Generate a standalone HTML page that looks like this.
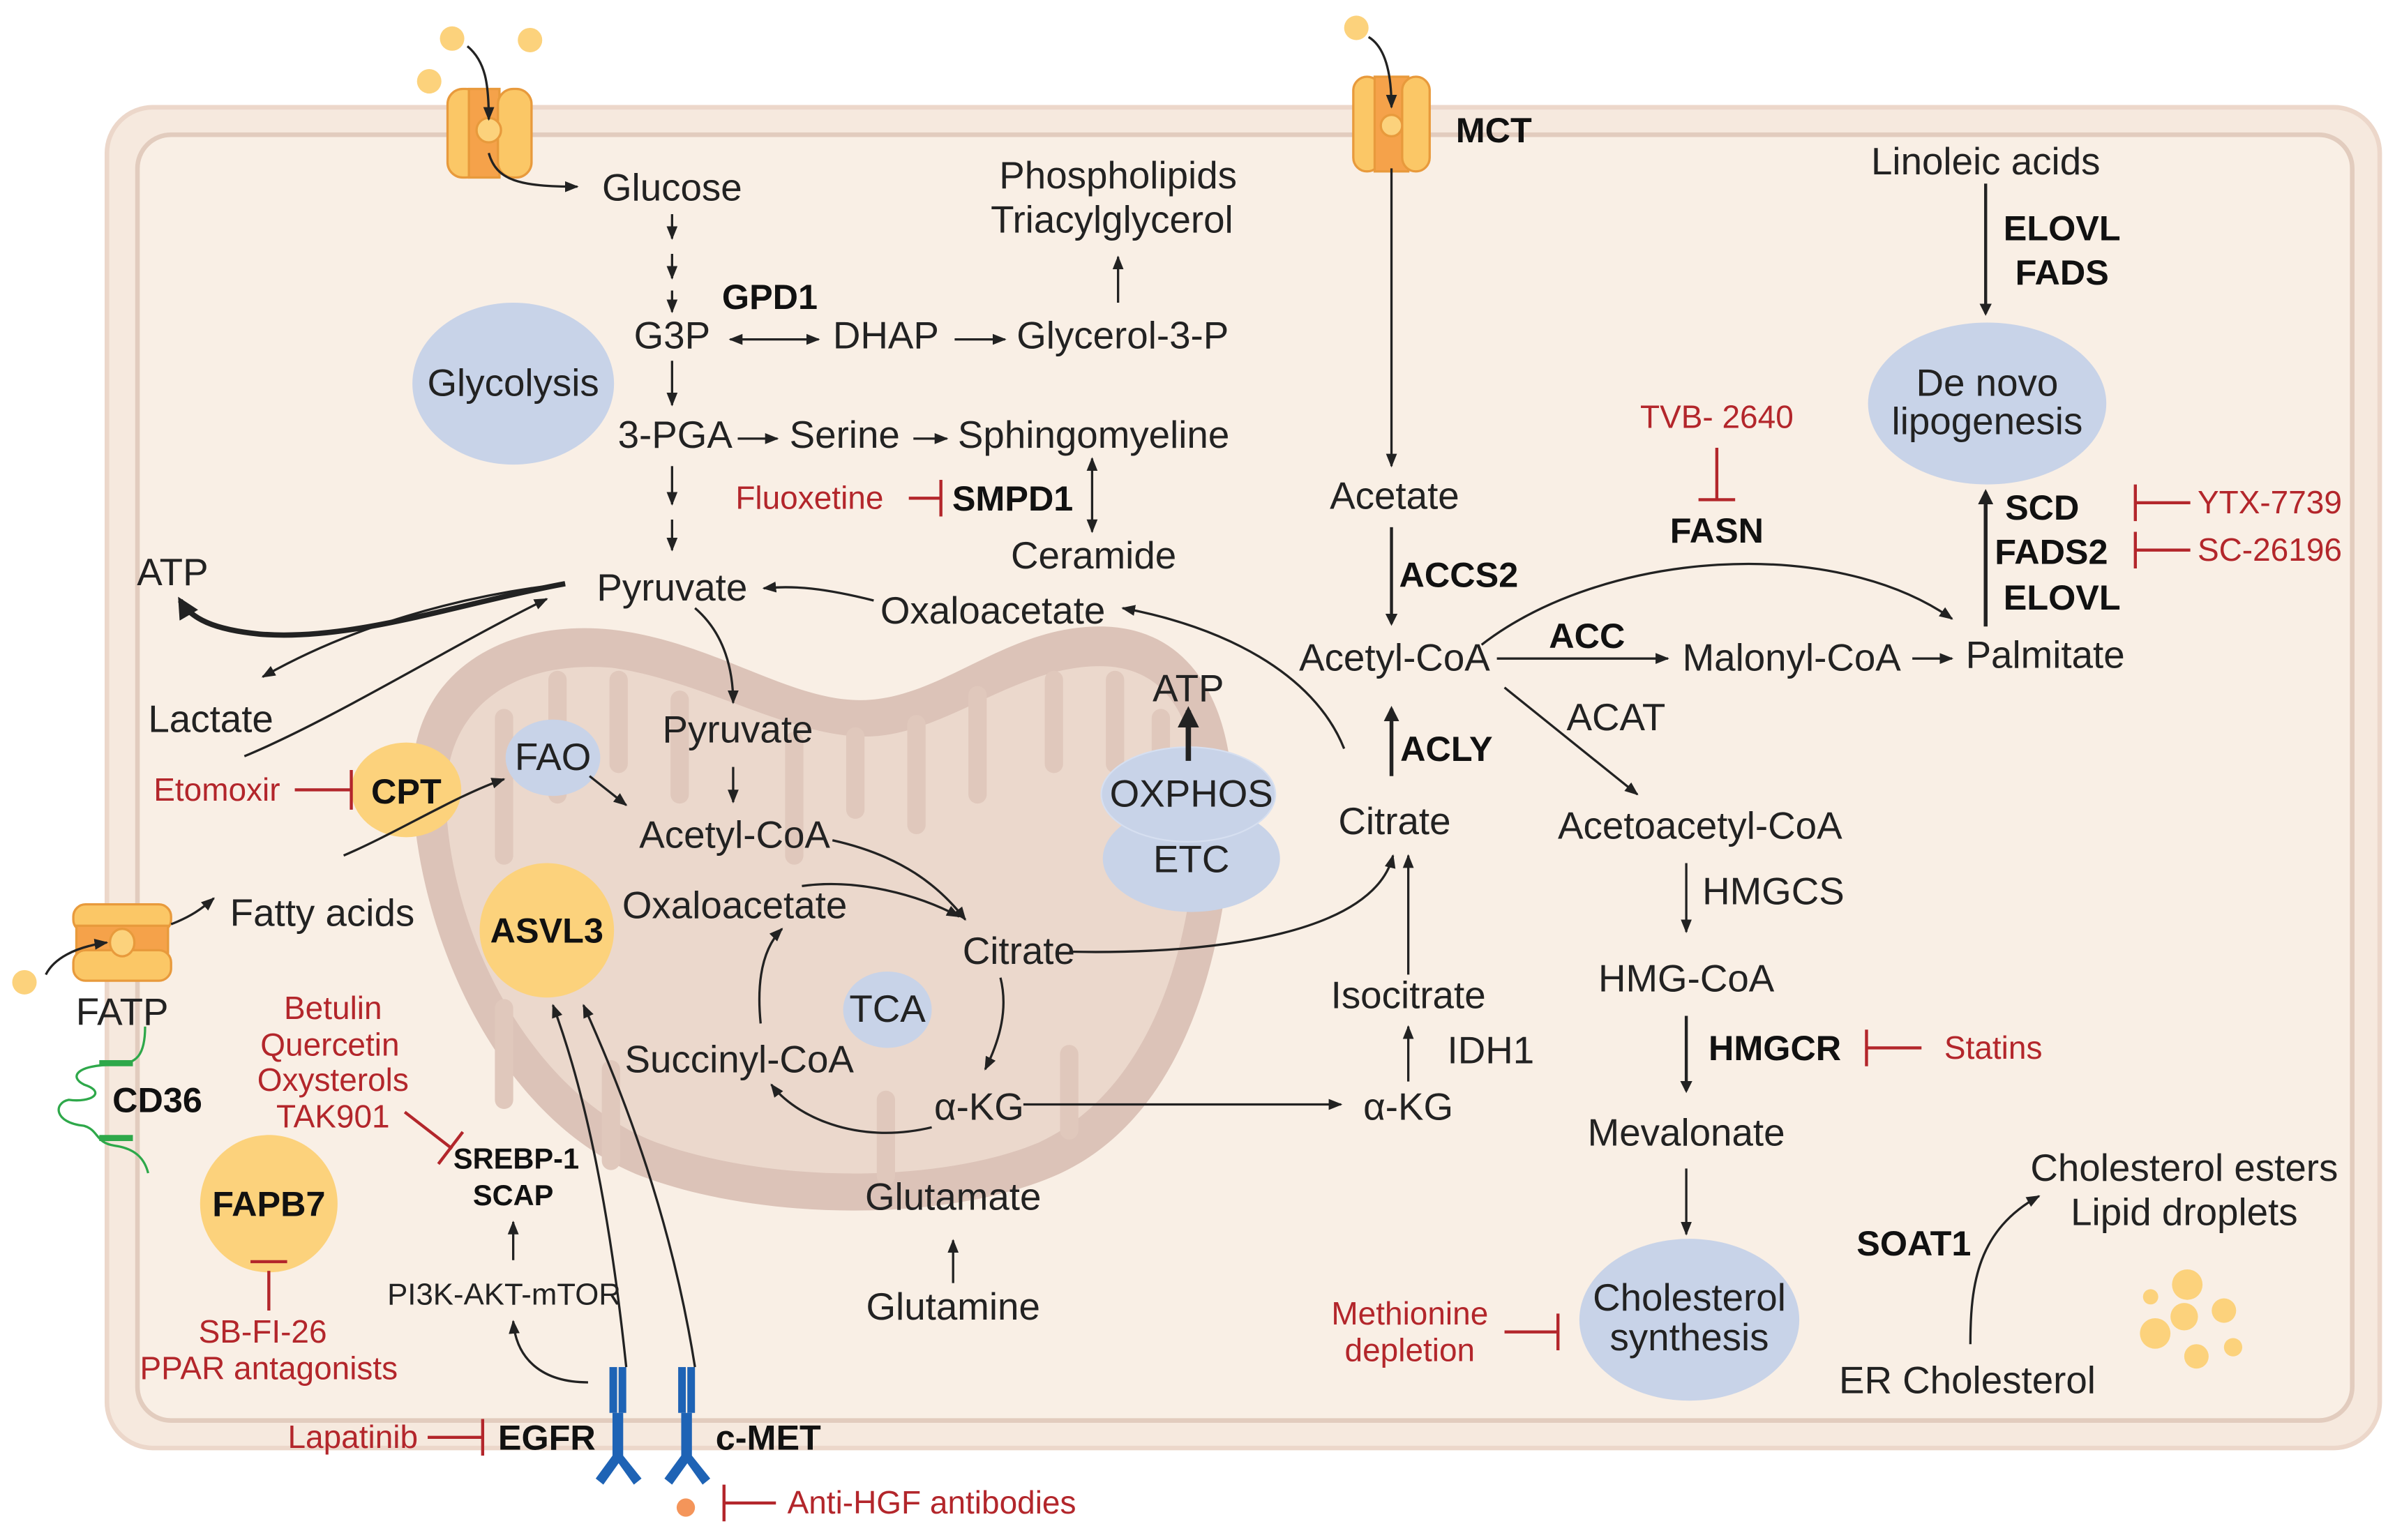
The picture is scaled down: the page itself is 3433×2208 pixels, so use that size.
<!DOCTYPE html>
<html><head><meta charset="utf-8"><style>
html,body{margin:0;padding:0;background:#fff}
svg{display:block}
text{font-family:"Liberation Sans",sans-serif;fill:#222;font-size:25px}
.b{font-weight:bold;fill:#111;font-size:23px}
.r{fill:#b3262b}
.c{text-anchor:middle}
</style></head><body>
<svg width="3433" height="2208" viewBox="0 0 1568 1008" xmlns="http://www.w3.org/2000/svg">
<defs>
<marker id="a" viewBox="0 0 10 10" refX="9" refY="5" markerWidth="6" markerHeight="6" orient="auto"><path d="M0,1 L10,5 L0,9 z" fill="#222"/></marker>
<marker id="as" viewBox="0 0 10 10" refX="9" refY="5" markerWidth="6" markerHeight="6" orient="auto-start-reverse"><path d="M0,1 L10,5 L0,9 z" fill="#222"/></marker>
<marker id="ab" viewBox="0 0 10 10" refX="8" refY="5" markerWidth="4" markerHeight="4" orient="auto"><path d="M0,0 L10,5 L0,10 z" fill="#222"/></marker>
</defs>
<rect width="1568" height="1008" fill="#fff"/>
<rect x="70" y="70" width="1488" height="878" rx="30" fill="#f6e9de" stroke="#ecd7ca" stroke-width="3"/>
<rect x="90" y="88" width="1450" height="842" rx="22" fill="#f9efe5" stroke="#e2ccbe" stroke-width="3"/>
<!-- mitochondrion -->
<path d="M270,520 C265,440 330,405 400,412 C470,420 520,462 570,458 C620,454 660,410 720,410 C790,410 815,480 805,560 C795,660 760,740 690,770 C620,800 500,800 420,770 C330,735 275,620 270,520 Z" fill="#dcc3b8"/>
<path d="M292,525 C290,460 340,432 400,437 C460,445 520,484 570,482 C620,480 665,436 720,436 C775,436 790,490 782,560 C774,650 740,720 680,748 C615,775 505,775 430,748 C350,718 295,615 292,525 Z" fill="#ebd8cc"/>
<g stroke="#e0c8bc" stroke-width="12" stroke-linecap="round" fill="none">
<path d="M330,470 L330,560"/><path d="M365,445 L365,520"/><path d="M405,445 L405,500"/><path d="M445,458 L445,520"/>
<path d="M520,485 L520,560"/><path d="M560,482 L560,530"/><path d="M600,474 L600,540"/><path d="M640,455 L640,520"/>
<path d="M690,445 L690,500"/><path d="M730,445 L730,500"/><path d="M760,470 L760,540"/>
<path d="M330,720 L330,660"/><path d="M400,760 L400,700"/><path d="M580,770 L580,720"/><path d="M700,740 L700,690"/>
</g>
<!-- blue ellipses -->
<g fill="#c8d3e8">
<ellipse cx="336" cy="251" rx="66" ry="53"/>
<ellipse cx="362" cy="496" rx="31" ry="25"/>
<ellipse cx="581" cy="661" rx="29" ry="25"/>
<ellipse cx="780" cy="562" rx="58" ry="35"/>
<ellipse cx="778" cy="520" rx="57" ry="31"/>
<ellipse cx="1301" cy="264" rx="78" ry="53"/>
<ellipse cx="1106" cy="864" rx="72" ry="53"/>
</g>
<ellipse cx="778" cy="520" rx="57" ry="31" fill="none" stroke="#d6dff0" stroke-width="1"/>
<!-- yellow circles -->
<g fill="#fcd27c">
<ellipse cx="266" cy="517" rx="36" ry="31"/>
<circle cx="358" cy="609" r="44"/>
<circle cx="176" cy="788" r="45"/>
<circle cx="296" cy="25" r="8"/><circle cx="347" cy="26" r="8"/><circle cx="281" cy="53" r="8"/>
<circle cx="888" cy="18" r="8"/>
<circle cx="16" cy="643" r="8"/>
<circle cx="1432" cy="841" r="10"/><circle cx="1456" cy="858" r="8"/><circle cx="1430" cy="862" r="9"/><circle cx="1411" cy="873" r="10"/><circle cx="1438" cy="888" r="8"/><circle cx="1462" cy="882" r="6"/><circle cx="1408" cy="849" r="5"/>
</g>
<!-- glucose transporter -->
<g stroke="#e89a3c" stroke-width="1.5">
<rect x="293" y="58" width="22" height="58" rx="10" fill="#fbc766"/>
<rect x="307" y="58" width="20" height="58" fill="#f5a24a"/>
<rect x="326" y="58" width="22" height="58" rx="10" fill="#fbc766"/>
<circle cx="320" cy="85" r="8" fill="#fcd27c"/>
</g>
<g stroke="#e89a3c" stroke-width="1.5">
<rect x="886" y="50" width="18" height="62" rx="9" fill="#fbc766"/>
<rect x="900" y="50" width="22" height="62" fill="#f5a24a"/>
<rect x="918" y="50" width="18" height="62" rx="9" fill="#fbc766"/>
<circle cx="911" cy="82" r="7" fill="#fcd27c"/>
</g>
<!-- FATP -->
<g stroke="#e89a3c" stroke-width="1.5">
<rect x="48" y="592" width="64" height="18" rx="8" fill="#fbc766"/>
<rect x="50" y="606" width="60" height="20" fill="#f5a24a"/>
<rect x="48" y="622" width="64" height="20" rx="8" fill="#fbc766"/>
<ellipse cx="80" cy="617" rx="8" ry="9" fill="#fcd27c"/>
</g>
<!-- CD36 -->
<path d="M95,672 C95,690 90,697 75,697 C50,697 45,705 55,710 C70,715 60,722 45,720 C35,722 35,735 55,737 C65,740 62,748 75,750 C90,752 95,760 97,768" fill="none" stroke="#2ea84a" stroke-width="1.5"/>
<rect x="65" y="694" width="22" height="4" fill="#2ea84a"/><rect x="65" y="743" width="22" height="4" fill="#2ea84a"/>
<!-- receptors -->
<g fill="#1e63b5">
<rect x="399" y="895" width="5" height="30"/><rect x="405" y="895" width="5" height="30"/>
<rect x="401" y="925" width="7" height="30"/>
<path d="M401,953 L390,968 L395,972 L405,958 L415,972 L420,968 L408,953 Z"/>
<rect x="444" y="895" width="5" height="30"/><rect x="450" y="895" width="5" height="30"/>
<rect x="446" y="925" width="7" height="30"/>
<path d="M446,953 L435,968 L440,972 L450,958 L460,972 L465,968 L453,953 Z"/>
</g>
<circle cx="449" cy="987" r="6" fill="#f4955a"/>
<!-- arrows -->
<g stroke="#222" stroke-width="1.5" fill="none" marker-end="url(#a)">
<path d="M306,30 C318,40 320,55 320,78"/>
<path d="M320,100 C325,118 340,122 378,122"/>
<path d="M896,24 C906,30 911,45 911,70"/>
<path d="M440,140 L440,156"/><path d="M440,166 L440,182"/><path d="M440,190 L440,204"/>
<path d="M440,236 L440,265"/>
<path d="M440,305 L440,330"/><path d="M440,340 L440,360"/>
<path d="M536,222 L478,222" marker-start="url(#as)"/>
<path d="M625,222 L658,222"/>
<path d="M732,198 L732,168"/>
<path d="M483,287 L509,287"/><path d="M598,287 L620,287"/>
<path d="M715,348 L715,300" marker-start="url(#as)"/>
<path d="M572,393 C540,385 520,383 500,385"/>
<path d="M880,490 C860,440 800,410 735,398"/>
<path d="M370,382 C300,390 230,410 172,443"/>
<path d="M160,495 C220,470 300,420 358,392"/>
<path d="M455,398 C475,415 480,440 480,460"/>
<path d="M480,502 L480,525"/>
<path d="M386,508 L410,527"/>
<path d="M225,560 C260,545 300,520 330,510"/>
<path d="M112,605 C125,600 132,595 140,588"/>
<path d="M30,638 C35,628 48,620 70,617"/>
<path d="M545,550 C590,560 615,580 632,602"/>
<path d="M525,580 C560,575 600,585 628,600"/>
<path d="M655,640 C660,660 655,680 645,700"/>
<path d="M610,738 C560,750 520,730 505,710"/>
<path d="M498,670 C495,640 500,620 512,608"/>
<path d="M624,840 L624,812"/>
<path d="M670,723 L878,723"/>
<path d="M922,708 L922,672"/>
<path d="M922,638 L922,560"/>
<path d="M700,623 C800,625 900,610 912,560"/>
<path d="M911,110 L911,305"/>
<path d="M980,431 L1092,431"/>
<path d="M1252,431 L1278,431"/>
<path d="M970,422 C1050,360 1200,350 1278,405"/>
<path d="M985,450 L1072,520"/>
<path d="M1104,565 L1104,610"/>
<path d="M1104,765 L1104,808"/>
<path d="M1290,880 C1290,840 1295,805 1335,783"/>
<path d="M336,825 L336,800"/>
<path d="M385,905 C355,905 338,890 336,865"/>
<path d="M410,895 C400,800 385,720 362,658"/>
<path d="M455,895 C440,800 410,720 382,658"/>
</g>
<g stroke="#222" stroke-width="3.5" fill="none" marker-end="url(#ab)">
<path d="M370,382 C300,395 230,420 170,415 C140,412 125,405 118,393"/>
<path d="M778,498 L778,465"/>
<path d="M911,508 L911,464" stroke-width="2.5"/>
<path d="M911,345 L911,408" stroke-width="2"/>
<path d="M1104,665 L1104,714" stroke-width="2"/>
<path d="M1300,120 L1300,205" stroke-width="2"/>
<path d="M1300,410 L1300,322" stroke-width="2.5"/>
</g>
<!-- inhibitors -->
<g stroke="#b3262b" stroke-width="2" fill="none">
<path d="M595,326 L616,326 M616,314 L616,338"/>
<path d="M193,517 L230,517 M230,504 L230,530"/>
<path d="M265,728 L296,752 M287,762 L303,741"/>
<path d="M176,832 L176,858 M164,826 L188,826"/>
<path d="M280,941 L316,941 M316,929 L316,953"/>
<path d="M508,984 L474,984 M474,972 L474,996"/>
<path d="M1124,293 L1124,327 M1112,327 L1136,327"/>
<path d="M1434,329 L1398,329 M1398,317 L1398,341"/>
<path d="M1434,360 L1398,360 M1398,348 L1398,372"/>
<path d="M1258,686 L1222,686 M1222,674 L1222,698"/>
<path d="M985,872 L1020,872 M1020,860 L1020,884"/>
</g>
<!-- text -->
<g>
<text x="440" y="131" class="c">Glucose</text>
<text x="732" y="123" class="c">Phospholipids</text>
<text x="728" y="152" class="c">Triacylglycerol</text>
<text x="504" y="202" class="c b">GPD1</text>
<text x="440" y="228" class="c">G3P</text>
<text x="580" y="228" class="c">DHAP</text>
<text x="735" y="228" class="c">Glycerol-3-P</text>
<text x="336" y="259" class="c">Glycolysis</text>
<text x="442" y="293" class="c">3-PGA</text>
<text x="553" y="293" class="c">Serine</text>
<text x="716" y="293" class="c">Sphingomyeline</text>
<text x="530" y="333" class="c r" style="font-size:21px">Fluoxetine</text>
<text x="663" y="334" class="c b">SMPD1</text>
<text x="716" y="372" class="c">Ceramide</text>
<text x="440" y="393" class="c">Pyruvate</text>
<text x="650" y="408" class="c">Oxaloacetate</text>
<text x="113" y="383" class="c">ATP</text>
<text x="138" y="479" class="c">Lactate</text>
<text x="483" y="486" class="c">Pyruvate</text>
<text x="362" y="504" class="c">FAO</text>
<text x="142" y="524" class="c r" style="font-size:21px">Etomoxir</text>
<text x="266" y="526" class="c b">CPT</text>
<text x="481" y="555" class="c">Acetyl-CoA</text>
<text x="778" y="459" class="c">ATP</text>
<text x="780" y="528" class="c">OXPHOS</text>
<text x="780" y="571" class="c">ETC</text>
<text x="211" y="606" class="c">Fatty acids</text>
<text x="358" y="617" class="c b">ASVL3</text>
<text x="481" y="601" class="c">Oxaloacetate</text>
<text x="667" y="631" class="c">Citrate</text>
<text x="581" y="669" class="c">TCA</text>
<text x="484" y="702" class="c">Succinyl-CoA</text>
<text x="641" y="733" class="c">α-KG</text>
<text x="624" y="792" class="c">Glutamate</text>
<text x="624" y="864" class="c">Glutamine</text>
<text x="80" y="671" class="c">FATP</text>
<text x="103" y="728" class="c b">CD36</text>
<text x="176" y="796" class="c b">FAPB7</text>
<text x="172" y="879" class="c r" style="font-size:21px">SB-FI-26</text>
<text x="176" y="903" class="c r" style="font-size:21px">PPAR antagonists</text>
<text x="218" y="667" class="c r" style="font-size:21px">Betulin</text>
<text x="216" y="691" class="c r" style="font-size:21px">Quercetin</text>
<text x="218" y="714" class="c r" style="font-size:21px">Oxysterols</text>
<text x="218" y="738" class="c r" style="font-size:21px">TAK901</text>
<text x="338" y="765" class="c b" style="font-size:19px">SREBP-1</text>
<text x="336" y="789" class="c b" style="font-size:19px">SCAP</text>
<text x="330" y="854" class="c" style="font-size:20px">PI3K-AKT-mTOR</text>
<text x="231" y="948" class="c r" style="font-size:21px">Lapatinib</text>
<text x="358" y="949" class="c b">EGFR</text>
<text x="503" y="949" class="c b">c-MET</text>
<text x="610" y="991" class="c r" style="font-size:21px">Anti-HGF antibodies</text>
<text x="978" y="93" class="c b">MCT</text>
<text x="913" y="333" class="c">Acetate</text>
<text x="955" y="384" class="c b">ACCS2</text>
<text x="913" y="439" class="c">Acetyl-CoA</text>
<text x="947" y="498" class="c b">ACLY</text>
<text x="913" y="546" class="c">Citrate</text>
<text x="922" y="660" class="c">Isocitrate</text>
<text x="976" y="696" class="c">IDH1</text>
<text x="922" y="733" class="c">α-KG</text>
<text x="1039" y="424" class="c b">ACC</text>
<text x="1173" y="439" class="c">Malonyl-CoA</text>
<text x="1339" y="437" class="c">Palmitate</text>
<text x="1058" y="478" class="c">ACAT</text>
<text x="1113" y="549" class="c">Acetoacetyl-CoA</text>
<text x="1161" y="592" class="c">HMGCS</text>
<text x="1104" y="649" class="c">HMG-CoA</text>
<text x="1162" y="694" class="c b">HMGCR</text>
<text x="1305" y="693" class="c r" style="font-size:21px">Statins</text>
<text x="1104" y="750" class="c">Mevalonate</text>
<text x="1106" y="858" class="c">Cholesterol</text>
<text x="1106" y="884" class="c">synthesis</text>
<text x="923" y="867" class="c r" style="font-size:21px">Methionine</text>
<text x="923" y="891" class="c r" style="font-size:21px">depletion</text>
<text x="1124" y="280" class="c r" style="font-size:21px">TVB- 2640</text>
<text x="1124" y="355" class="c b">FASN</text>
<text x="1300" y="114" class="c">Linoleic acids</text>
<text x="1350" y="157" class="c b">ELOVL</text>
<text x="1350" y="186" class="c b">FADS</text>
<text x="1301" y="259" class="c">De novo</text>
<text x="1301" y="284" class="c">lipogenesis</text>
<text x="1337" y="340" class="c b">SCD</text>
<text x="1343" y="369" class="c b">FADS2</text>
<text x="1350" y="399" class="c b">ELOVL</text>
<text x="1486" y="336" class="c r" style="font-size:21px">YTX-7739</text>
<text x="1486" y="367" class="c r" style="font-size:21px">SC-26196</text>
<text x="1253" y="822" class="c b">SOAT1</text>
<text x="1288" y="912" class="c">ER Cholesterol</text>
<text x="1430" y="773" class="c">Cholesterol esters</text>
<text x="1430" y="802" class="c">Lipid droplets</text>
</g>
</svg>
</body></html>
